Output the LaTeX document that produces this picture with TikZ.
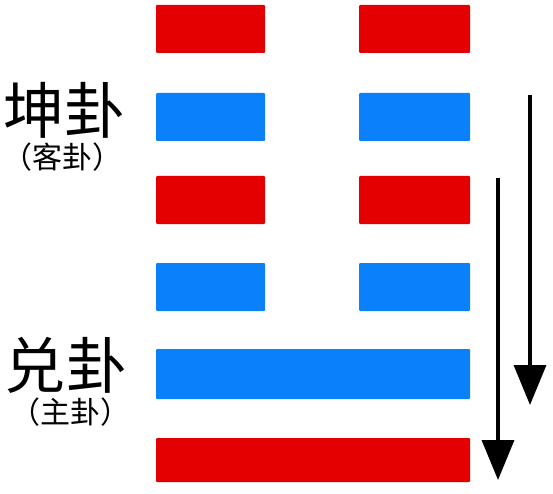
\documentclass[tikz,border=0pt]{standalone}
\usepackage{fontspec}
\newfontfamily\cjk{Noto Sans CJK SC}
\usetikzlibrary{arrows.meta}
\definecolor{yaored}{RGB}{228,0,0}
\definecolor{yaoblue}{RGB}{10,128,250}
\tikzset{
  yao/.style={rounded corners=1pt},
  bigname/.style={font=\cjk\fontsize{61}{61}\selectfont, inner sep=0pt},
  subname/.style={font=\cjk\fontsize{30}{30}\selectfont, inner sep=0pt},
  order/.style={line width=3.5pt, -{Triangle[width=32pt,length=40pt]}}
}

\begin{document}
\begin{tikzpicture}[x=1pt,y=-1pt]
        \useasboundingbox (0,0) rectangle (553,494);
        % broken lines
        \foreach \y/\c in {5/yaored,93/yaoblue,176/yaored,263/yaoblue}
        {
            \fill[yao,\c] (156,\y) rectangle (265,\y+48);
            \fill[yao,\c] (359,\y) rectangle (470,\y+48);
        }
        % whole lines
        \fill[yao,yaoblue] (156,349) rectangle (470,399);
        \fill[yao,yaored] (156,438) rectangle (470,482);
        % names
        \node[bigname] (kun) at (64,110) {坤卦};
        \node[subname] (ke) at (62,157) {（客卦）};
        \node[bigname] (dui) at (66,365) {兑卦};
        \node[subname] (zhu) at (70,412) {（主卦）};
        % reading order
        \coordinate (upperstart) at (530,95);
        \coordinate (upperend) at (530,405);
        \coordinate (lowerstart) at (498,178);
        \coordinate (lowerend) at (498,480);
        \draw[order] (upperstart) -- (upperend);
        \draw[order] (lowerstart) -- (lowerend);
    \end{tikzpicture}
\end{document}
